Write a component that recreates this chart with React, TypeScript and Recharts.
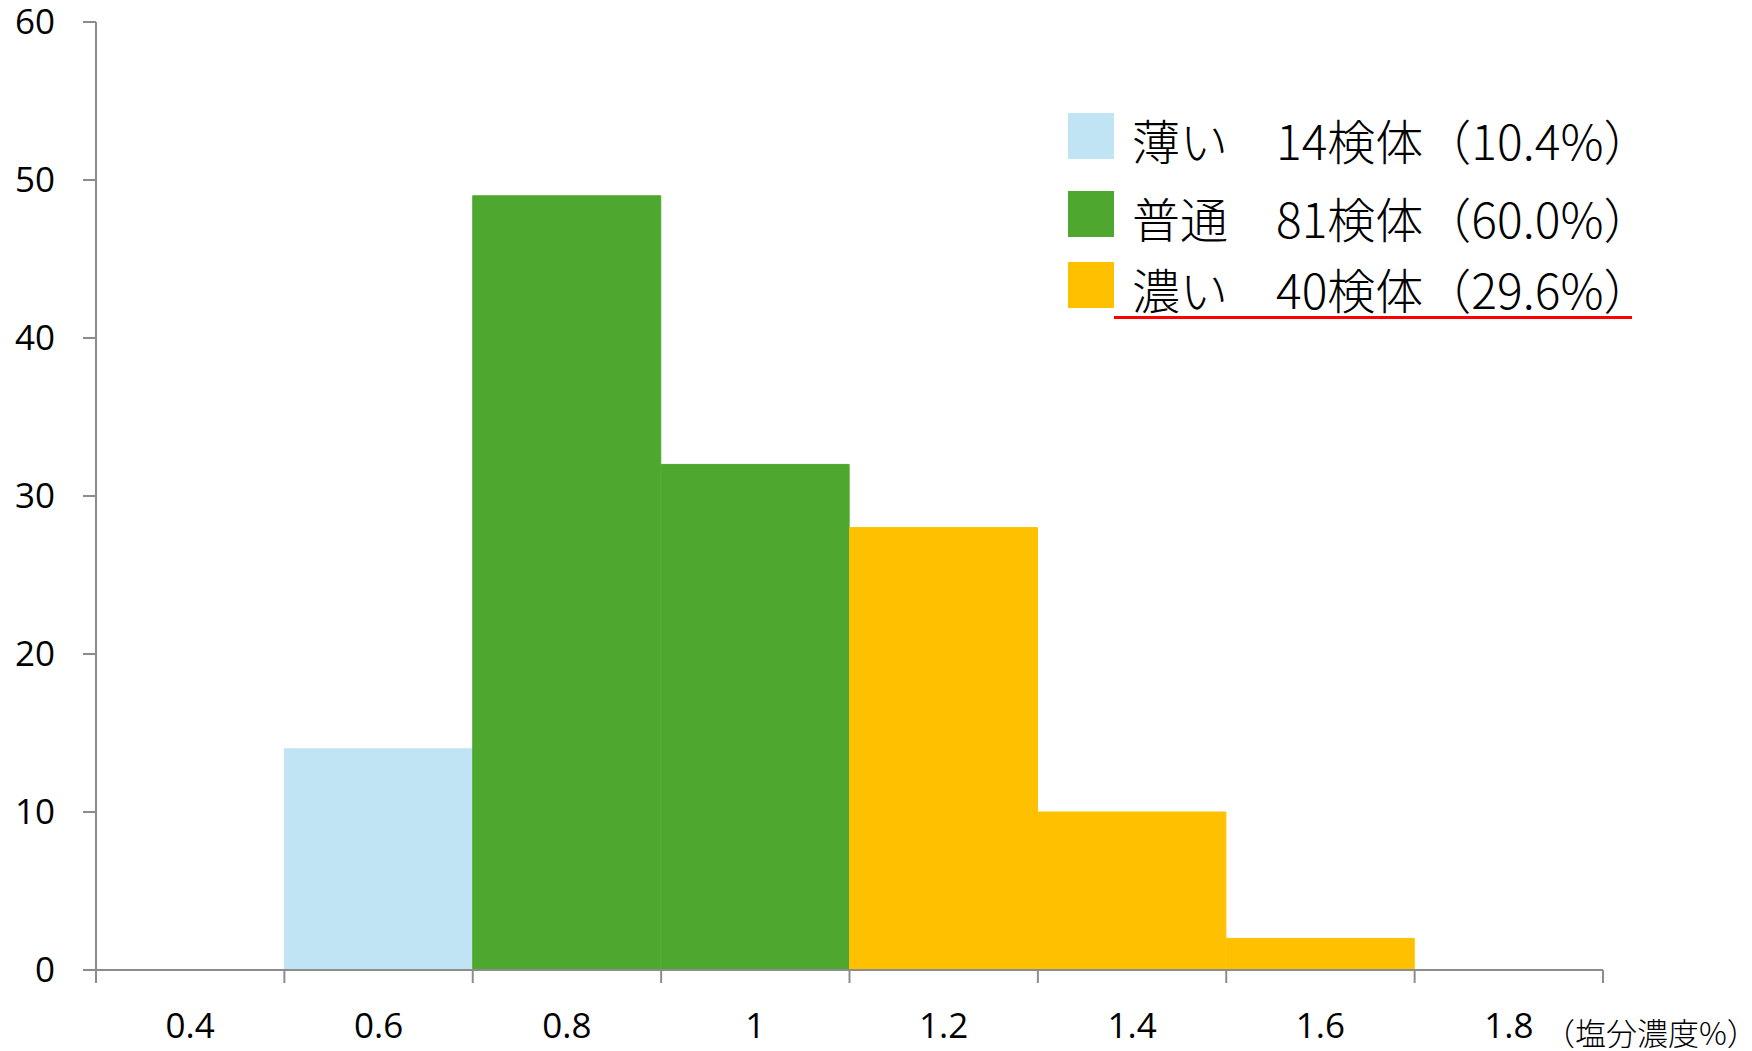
import { BarChart, Bar, XAxis, YAxis, Legend, Label } from 'recharts';

// salt concentration bins (%) and sample counts per bin
const bins = ['0.4', '0.6', '0.8', '1', '1.2', '1.4', '1.6', '1.8'];
const counts = [0, 14, 49, 32, 28, 10, 2, 0];
const binLevel = ['薄い', '薄い', '普通', '普通', '濃い', '濃い', '濃い', '濃い'];

const levels = ['薄い', '普通', '濃い'];
const levelColors = ['#c1e4f5', '#4ea72e', '#ffc000'];
const yTicks = [0, 10, 20, 30, 40, 50, 60];
const unitLabel = '（塩分濃度%）';

const rows = bins.map((bin, i) => {
  const row: Record<string, string | number | null> = { bin };
  levels.forEach((l) => {
    row[l] = binLevel[i] === l ? counts[i] : null;
  });
  return row;
});

const total = counts.reduce((a, b) => a + b, 0);
const levelTotals = levels.map((l) =>
  counts.reduce((s, c, i) => (binLevel[i] === l ? s + c : s), 0)
);

const W = 1752;
const H = 1051;
const MARGIN = { top: 22, right: 149, bottom: 0, left: 0 };
const Y_WIDTH = 96;
const X_HEIGHT = 81;
const HALF_BAND = (W - Y_WIDTH - MARGIN.right) / bins.length / 2;

const AXIS = '#8c8c8c';
const FONT_NUM = '"Open Sans", "Noto Sans CJK JP", sans-serif';
const FONT_JP = '"Noto Sans CJK JP", sans-serif';

// label centred in the bin, tick marks on the bin edges
function BinTick(props: any) {
  const { x, y, payload, index } = props;
  const half = payload?.offset || HALF_BAND;
  return (
    <g>
      <line x1={x - half} x2={x - half} y1={y} y2={y + 13} stroke={AXIS} strokeWidth={2} />
      {index === bins.length - 1 && (
        <line x1={x + half} x2={x + half} y1={y} y2={y + 13} stroke={AXIS} strokeWidth={2} />
      )}
      <text x={x} y={y + 68} textAnchor="middle" fontSize={35} fontFamily={FONT_NUM} fill="#000">
        {payload.value}
      </text>
    </g>
  );
}

function UnitLabel(props: any) {
  const { x, y, width } = props.viewBox;
  return (
    <text x={x + width - 59} y={y + 75} fontSize={31} fontWeight={300} fontFamily={FONT_JP} fill="#000">
      {unitLabel}
    </text>
  );
}

// legend rows are not evenly spaced
const ROW_TOPS = [0, 78, 149];

function LevelLegend() {
  return (
    <div
      style={{
        position: 'relative',
        width: 600,
        height: 220,
        fontFamily: FONT_JP,
        fontSize: 48,
        fontWeight: 300,
        color: '#000',
      }}
    >
      {levels.map((l, i) => {
        const pct = ((levelTotals[i] / total) * 100).toFixed(1);
        return (
          <div key={l} style={{ position: 'absolute', left: 0, top: ROW_TOPS[i], width: 600, height: 46 }}>
            <div style={{ position: 'absolute', left: 0, top: 0, width: 46, height: 46, background: levelColors[i] }} />
            <span style={{ position: 'absolute', left: 64, top: 3, lineHeight: '46px', whiteSpace: 'nowrap' }}>{l}</span>
            <span style={{ position: 'absolute', left: 208, top: 3, lineHeight: '46px', whiteSpace: 'nowrap' }}>
              {`${levelTotals[i]}検体（${pct}%）`}
            </span>
          </div>
        );
      })}
      <div style={{ position: 'absolute', left: 46, top: 203, width: 518, height: 3, background: '#ff0000' }} />
    </div>
  );
}

export default function App() {
  return (
    <div style={{ position: 'absolute', left: 0, top: 0, width: W, height: H, background: '#fff' }}>
      <BarChart width={W} height={H} data={rows} margin={MARGIN} barCategoryGap={0} barGap={0}>
        <XAxis
          dataKey="bin"
          height={X_HEIGHT}
          interval={0}
          tickSize={0}
          tickMargin={0}
          tickLine={false}
          axisLine={{ stroke: AXIS, strokeWidth: 2 }}
          tick={BinTick}
        >
          <Label content={UnitLabel} />
        </XAxis>
        <YAxis
          type="number"
          domain={[0, 60]}
          ticks={yTicks}
          interval={0}
          width={Y_WIDTH}
          tickSize={13}
          tickMargin={28}
          axisLine={{ stroke: AXIS, strokeWidth: 2 }}
          tickLine={{ stroke: AXIS, strokeWidth: 2 }}
          tick={{ fontSize: 35, fill: '#000', fontFamily: FONT_NUM }}
        />
        <Legend
          layout="horizontal"
          verticalAlign="middle"
          align="center"
          content={<LevelLegend />}
          wrapperStyle={{ left: 1068, top: 113, width: 600, height: 220 }}
        />
        {levels.map((l, i) => (
          <Bar
            key={l}
            dataKey={l}
            stackId="n"
            fill={levelColors[i]}
            stroke={levelColors[i]}
            strokeWidth={1}
            isAnimationActive={false}
          />
        ))}
      </BarChart>
    </div>
  );
}
